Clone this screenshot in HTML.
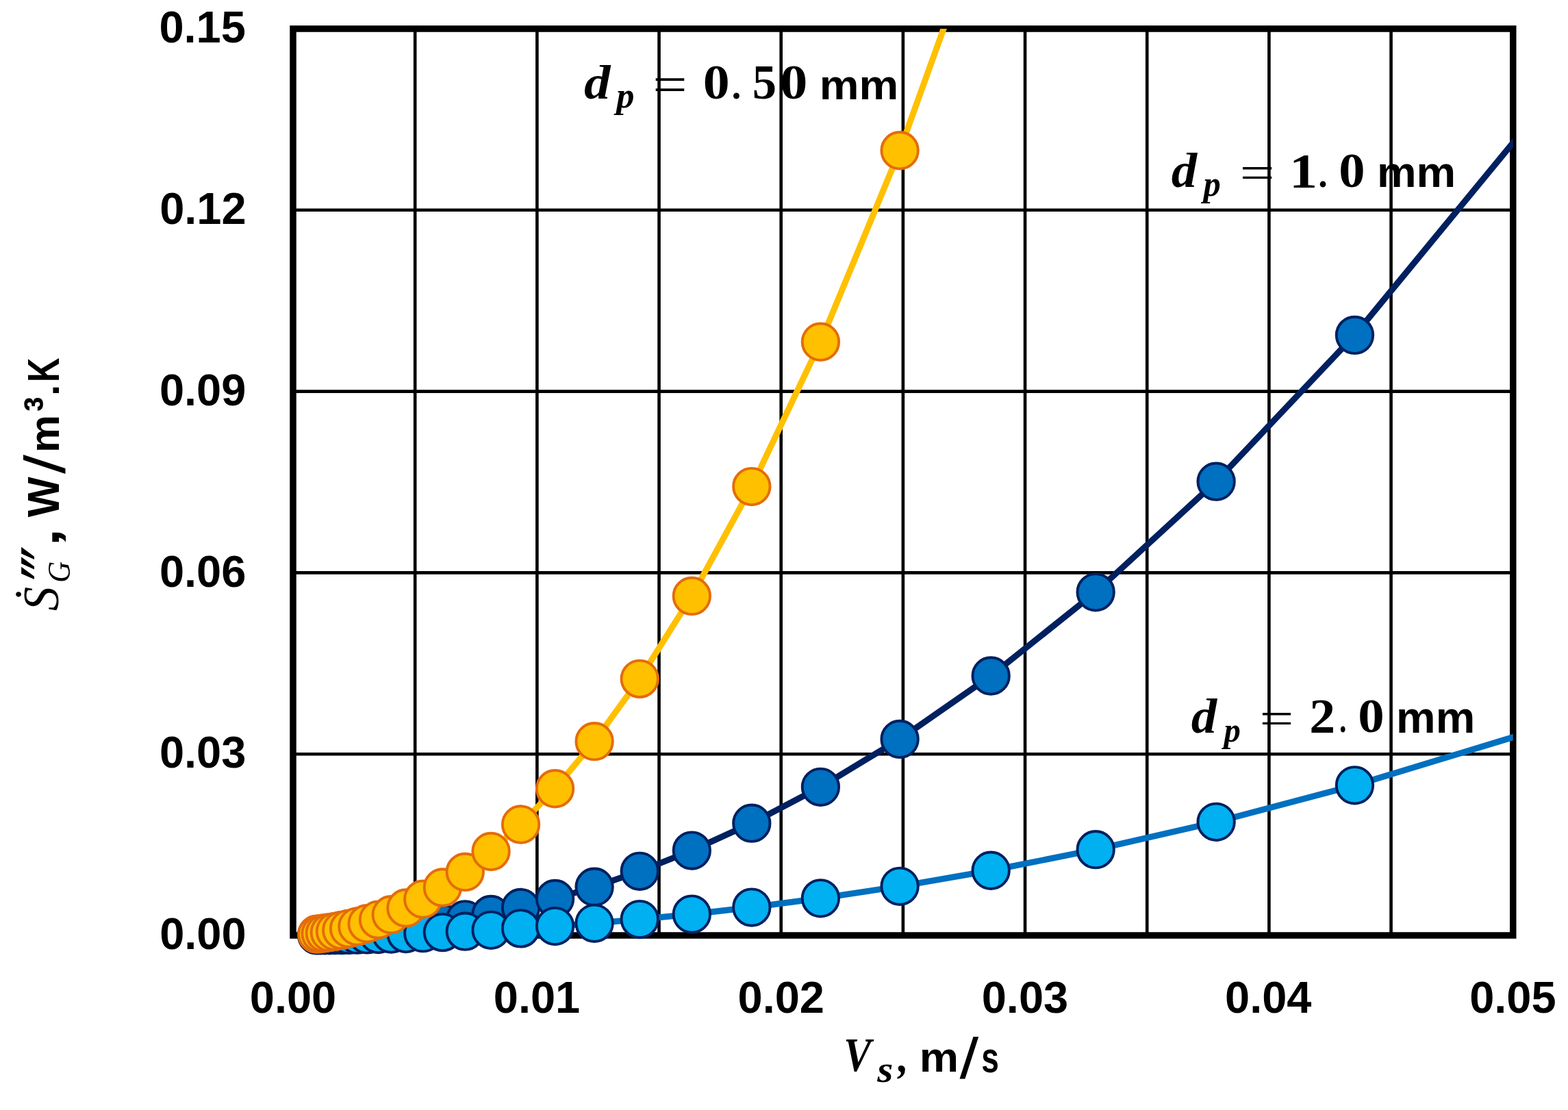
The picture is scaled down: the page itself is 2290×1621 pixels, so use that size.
<!DOCTYPE html>
<html><head><meta charset="utf-8"><title>Entropy generation vs superficial velocity</title>
<style>html,body{margin:0;padding:0;background:#fff;}svg{display:block;}</style></head>
<body>
<svg width="2290" height="1621" viewBox="0 0 2290 1621">
<rect x="0" y="0" width="2290" height="1621" fill="#fff"/>
<defs><clipPath id="pa"><rect x="428.00" y="42.00" width="1781.75" height="1324.00"/></clipPath></defs>

<g stroke="#000" stroke-width="4.6" fill="none">
<line x1="606.17" y1="42.0" x2="606.17" y2="1366.0"/>
<line x1="784.35" y1="42.0" x2="784.35" y2="1366.0"/>
<line x1="962.52" y1="42.0" x2="962.52" y2="1366.0"/>
<line x1="1140.70" y1="42.0" x2="1140.70" y2="1366.0"/>
<line x1="1318.88" y1="42.0" x2="1318.88" y2="1366.0"/>
<line x1="1497.05" y1="42.0" x2="1497.05" y2="1366.0"/>
<line x1="1675.22" y1="42.0" x2="1675.22" y2="1366.0"/>
<line x1="1853.40" y1="42.0" x2="1853.40" y2="1366.0"/>
<line x1="2031.58" y1="42.0" x2="2031.58" y2="1366.0"/>
<line x1="428.0" y1="306.80" x2="2209.75" y2="306.80"/>
<line x1="428.0" y1="571.60" x2="2209.75" y2="571.60"/>
<line x1="428.0" y1="836.40" x2="2209.75" y2="836.40"/>
<line x1="428.0" y1="1101.20" x2="2209.75" y2="1101.20"/>
</g>
<rect x="428.0" y="42.0" width="1781.75" height="1324.00" fill="none" stroke="#000" stroke-width="9.5"/>
<path d="M462.74,1365.54 L468.08,1365.39 L474.23,1365.19 L481.30,1364.93 L489.43,1364.59 L498.77,1364.13 L509.53,1363.53 L521.89,1362.73 L536.11,1361.67 L552.46,1360.28 L571.26,1358.43 L592.89,1355.99 L617.76,1352.76 L646.35,1348.49 L679.24,1342.84 L717.06,1335.38 L760.56,1325.50 L810.58,1312.44 L868.10,1295.16 L934.25,1272.32 L1010.32,1242.11 L1097.80,1202.15 L1198.41,1149.31 L1314.11,1079.43 L1447.16,987.01 L1600.17,864.79 L1776.13,703.15 L1978.48,489.38 L2211.19,206.67" fill="none" stroke="#002060" stroke-width="9.0" stroke-linejoin="round" stroke-linecap="round" clip-path="url(#pa)"/>
<g fill="#0070C0" stroke="#002060" stroke-width="3.9">
<circle cx="462.74" cy="1365.54" r="26.7"/>
<circle cx="468.08" cy="1365.39" r="26.7"/>
<circle cx="474.23" cy="1365.19" r="26.7"/>
<circle cx="481.30" cy="1364.93" r="26.7"/>
<circle cx="489.43" cy="1364.59" r="26.7"/>
<circle cx="498.77" cy="1364.13" r="26.7"/>
<circle cx="509.53" cy="1363.53" r="26.7"/>
<circle cx="521.89" cy="1362.73" r="26.7"/>
<circle cx="536.11" cy="1361.67" r="26.7"/>
<circle cx="552.46" cy="1360.28" r="26.7"/>
<circle cx="571.26" cy="1358.43" r="26.7"/>
<circle cx="592.89" cy="1355.99" r="26.7"/>
<circle cx="617.76" cy="1352.76" r="26.7"/>
<circle cx="646.35" cy="1348.49" r="26.7"/>
<circle cx="679.24" cy="1342.84" r="26.7"/>
<circle cx="717.06" cy="1335.38" r="26.7"/>
<circle cx="760.56" cy="1325.50" r="26.7"/>
<circle cx="810.58" cy="1312.44" r="26.7"/>
<circle cx="868.10" cy="1295.16" r="26.7"/>
<circle cx="934.25" cy="1272.32" r="26.7"/>
<circle cx="1010.32" cy="1242.11" r="26.7"/>
<circle cx="1097.80" cy="1202.15" r="26.7"/>
<circle cx="1198.41" cy="1149.31" r="26.7"/>
<circle cx="1314.11" cy="1079.43" r="26.7"/>
<circle cx="1447.16" cy="987.01" r="26.7"/>
<circle cx="1600.17" cy="864.79" r="26.7"/>
<circle cx="1776.13" cy="703.15" r="26.7"/>
<circle cx="1978.48" cy="489.38" r="26.7"/>
</g>
<path d="M462.74,1365.88 L468.08,1365.85 L474.23,1365.80 L481.30,1365.73 L489.43,1365.65 L498.77,1365.53 L509.53,1365.38 L521.89,1365.18 L536.11,1364.92 L552.46,1364.57 L571.26,1364.11 L592.89,1363.50 L617.76,1362.69 L646.35,1361.62 L679.24,1360.21 L717.06,1358.34 L760.56,1355.87 L810.58,1352.61 L868.10,1348.29 L934.25,1342.58 L1010.32,1335.03 L1097.80,1325.04 L1198.41,1311.83 L1314.11,1294.36 L1447.16,1271.25 L1600.17,1240.70 L1776.13,1200.29 L1978.48,1146.84 L2211.19,1076.17" fill="none" stroke="#0070C0" stroke-width="9.0" stroke-linejoin="round" stroke-linecap="round" clip-path="url(#pa)"/>
<g fill="#00B0F0" stroke="#002060" stroke-width="3.9">
<circle cx="462.74" cy="1365.88" r="26.7"/>
<circle cx="468.08" cy="1365.85" r="26.7"/>
<circle cx="474.23" cy="1365.80" r="26.7"/>
<circle cx="481.30" cy="1365.73" r="26.7"/>
<circle cx="489.43" cy="1365.65" r="26.7"/>
<circle cx="498.77" cy="1365.53" r="26.7"/>
<circle cx="509.53" cy="1365.38" r="26.7"/>
<circle cx="521.89" cy="1365.18" r="26.7"/>
<circle cx="536.11" cy="1364.92" r="26.7"/>
<circle cx="552.46" cy="1364.57" r="26.7"/>
<circle cx="571.26" cy="1364.11" r="26.7"/>
<circle cx="592.89" cy="1363.50" r="26.7"/>
<circle cx="617.76" cy="1362.69" r="26.7"/>
<circle cx="646.35" cy="1361.62" r="26.7"/>
<circle cx="679.24" cy="1360.21" r="26.7"/>
<circle cx="717.06" cy="1358.34" r="26.7"/>
<circle cx="760.56" cy="1355.87" r="26.7"/>
<circle cx="810.58" cy="1352.61" r="26.7"/>
<circle cx="868.10" cy="1348.29" r="26.7"/>
<circle cx="934.25" cy="1342.58" r="26.7"/>
<circle cx="1010.32" cy="1335.03" r="26.7"/>
<circle cx="1097.80" cy="1325.04" r="26.7"/>
<circle cx="1198.41" cy="1311.83" r="26.7"/>
<circle cx="1314.11" cy="1294.36" r="26.7"/>
<circle cx="1447.16" cy="1271.25" r="26.7"/>
<circle cx="1600.17" cy="1240.70" r="26.7"/>
<circle cx="1776.13" cy="1200.29" r="26.7"/>
<circle cx="1978.48" cy="1146.84" r="26.7"/>
</g>
<path d="M462.74,1364.15 L468.08,1363.55 L474.23,1362.76 L481.30,1361.72 L489.43,1360.34 L498.77,1358.52 L509.53,1356.10 L521.89,1352.91 L536.11,1348.69 L552.46,1343.10 L571.26,1335.72 L592.89,1325.96 L617.76,1313.04 L646.35,1295.96 L679.24,1273.38 L717.06,1243.50 L760.56,1204.00 L810.58,1151.75 L868.10,1082.66 L934.25,991.28 L1010.32,870.43 L1097.80,710.61 L1198.41,499.25 L1314.11,219.73 L1447.16,-149.95 L1600.17,-638.84 L1776.13,-1285.40 L1978.48,-2140.48 L2211.19,-3271.32" fill="none" stroke="#FFC000" stroke-width="9.0" stroke-linejoin="round" stroke-linecap="round" clip-path="url(#pa)"/>
<g fill="#FFC000" stroke="#E46C0A" stroke-width="3.9">
<circle cx="462.74" cy="1364.15" r="26.7"/>
<circle cx="468.08" cy="1363.55" r="26.7"/>
<circle cx="474.23" cy="1362.76" r="26.7"/>
<circle cx="481.30" cy="1361.72" r="26.7"/>
<circle cx="489.43" cy="1360.34" r="26.7"/>
<circle cx="498.77" cy="1358.52" r="26.7"/>
<circle cx="509.53" cy="1356.10" r="26.7"/>
<circle cx="521.89" cy="1352.91" r="26.7"/>
<circle cx="536.11" cy="1348.69" r="26.7"/>
<circle cx="552.46" cy="1343.10" r="26.7"/>
<circle cx="571.26" cy="1335.72" r="26.7"/>
<circle cx="592.89" cy="1325.96" r="26.7"/>
<circle cx="617.76" cy="1313.04" r="26.7"/>
<circle cx="646.35" cy="1295.96" r="26.7"/>
<circle cx="679.24" cy="1273.38" r="26.7"/>
<circle cx="717.06" cy="1243.50" r="26.7"/>
<circle cx="760.56" cy="1204.00" r="26.7"/>
<circle cx="810.58" cy="1151.75" r="26.7"/>
<circle cx="868.10" cy="1082.66" r="26.7"/>
<circle cx="934.25" cy="991.28" r="26.7"/>
<circle cx="1010.32" cy="870.43" r="26.7"/>
<circle cx="1097.80" cy="710.61" r="26.7"/>
<circle cx="1198.41" cy="499.25" r="26.7"/>
<circle cx="1314.11" cy="219.73" r="26.7"/>
</g>
<text transform="translate(232.41,62.20) scale(1.015,1)" font-family='"Liberation Sans", Arial, sans-serif' font-weight="bold" font-size="64">0.15</text>
<text transform="translate(233.17,327.00) scale(1.015,1)" font-family='"Liberation Sans", Arial, sans-serif' font-weight="bold" font-size="64">0.12</text>
<text transform="translate(232.92,591.80) scale(1.015,1)" font-family='"Liberation Sans", Arial, sans-serif' font-weight="bold" font-size="64">0.09</text>
<text transform="translate(232.92,856.60) scale(1.015,1)" font-family='"Liberation Sans", Arial, sans-serif' font-weight="bold" font-size="64">0.06</text>
<text transform="translate(232.92,1121.40) scale(1.015,1)" font-family='"Liberation Sans", Arial, sans-serif' font-weight="bold" font-size="64">0.03</text>
<text transform="translate(233.17,1386.20) scale(1.015,1)" font-family='"Liberation Sans", Arial, sans-serif' font-weight="bold" font-size="64">0.00</text>
<text transform="translate(364.82,1479.3) scale(1.015,1)" font-family='"Liberation Sans", Arial, sans-serif' font-weight="bold" font-size="64">0.00</text>
<text transform="translate(720.79,1479.3) scale(1.015,1)" font-family='"Liberation Sans", Arial, sans-serif' font-weight="bold" font-size="64">0.01</text>
<text transform="translate(1077.52,1479.3) scale(1.015,1)" font-family='"Liberation Sans", Arial, sans-serif' font-weight="bold" font-size="64">0.02</text>
<text transform="translate(1433.74,1479.3) scale(1.015,1)" font-family='"Liberation Sans", Arial, sans-serif' font-weight="bold" font-size="64">0.03</text>
<text transform="translate(1789.07,1479.3) scale(1.015,1)" font-family='"Liberation Sans", Arial, sans-serif' font-weight="bold" font-size="64">0.04</text>
<text transform="translate(2146.19,1479.3) scale(1.015,1)" font-family='"Liberation Sans", Arial, sans-serif' font-weight="bold" font-size="64">0.05</text>
<text transform="translate(1232.24,1564.20) scale(0.8638,1.0000)" font-family='"Liberation Serif", "Times New Roman", serif' font-weight="bold" font-style="italic" font-size="69.5">V</text>
<text transform="translate(1281.27,1580.40) scale(1.0886,0.9981)" font-family='"Liberation Serif", "Times New Roman", serif' font-weight="bold" font-style="italic" font-size="54.5">s</text>
<text transform="translate(1311.79,1565.55) scale(0.9280,1.0051)" font-family='"Liberation Serif", "Times New Roman", serif' font-weight="bold" font-style="italic" font-size="65.0">,</text>
<text transform="translate(1342.74,1565.00) scale(1.0652,1.0031)" font-family='"Liberation Sans", Arial, sans-serif' font-weight="bold" font-style="normal" font-size="60.5">m</text>
<text transform="translate(1401.40,1574.85) scale(1.1871,1.0016)" font-family='"Liberation Sans", Arial, sans-serif' font-weight="normal" font-style="normal" font-size="84.0">/</text>
<text transform="translate(1433.24,1566.00) scale(0.7367,0.9956)" font-family='"Liberation Sans", Arial, sans-serif' font-weight="bold" font-style="normal" font-size="62.5">s</text>
<text transform="translate(853.08,143.75) scale(1.0971,1.0010)" font-family='"Liberation Serif", "Times New Roman", serif' font-weight="bold" font-style="italic" font-size="70.0">d</text>
<text transform="translate(900.22,157.27) scale(0.9913,0.9986)" font-family='"Liberation Serif", "Times New Roman", serif' font-weight="bold" font-style="italic" font-size="53.0">p</text>
<text transform="translate(953.13,147.96) scale(1.1914,0.9973)" font-family='"Liberation Serif", "Times New Roman", serif' font-weight="normal" font-style="normal" font-size="75.0">=</text>
<text transform="translate(1026.71,143.75) scale(1.0876,0.9990)" font-family='"Liberation Serif", "Times New Roman", serif' font-weight="bold" font-style="normal" font-size="71.5">0</text>
<text transform="translate(1068.50,143.75) scale(1.0000,1.0000)" font-family='"Liberation Serif", "Times New Roman", serif' font-weight="bold" font-style="normal" font-size="55.5">.</text>
<text transform="translate(1098.78,143.75) scale(0.9738,0.9990)" font-family='"Liberation Serif", "Times New Roman", serif' font-weight="bold" font-style="normal" font-size="72.5">5</text>
<text transform="translate(1138.89,143.75) scale(1.1306,0.9990)" font-family='"Liberation Serif", "Times New Roman", serif' font-weight="bold" font-style="normal" font-size="71.5">0</text>
<text transform="translate(1196.74,144.50) scale(1.0650,1.0046)" font-family='"Liberation Sans", Arial, sans-serif' font-weight="bold" font-style="normal" font-size="61.0">mm</text>
<text transform="translate(1710.81,273.05) scale(1.0535,1.0000)" font-family='"Liberation Serif", "Times New Roman", serif' font-weight="bold" font-style="italic" font-size="71.0">d</text>
<text transform="translate(1757.55,286.43) scale(0.9735,0.9972)" font-family='"Liberation Serif", "Times New Roman", serif' font-weight="bold" font-style="italic" font-size="52.0">p</text>
<text transform="translate(1810.38,275.08) scale(1.3613,1.0061)" font-family='"Liberation Serif", "Times New Roman", serif' font-weight="normal" font-style="normal" font-size="66.5">=</text>
<text transform="translate(1883.03,273.80) scale(1.1259,0.9969)" font-family='"Liberation Serif", "Times New Roman", serif' font-weight="bold" font-style="normal" font-size="73.0">1</text>
<text transform="translate(1925.36,273.05) scale(0.9778,1.0000)" font-family='"Liberation Serif", "Times New Roman", serif' font-weight="bold" font-style="normal" font-size="55.5">.</text>
<text transform="translate(1955.25,273.05) scale(1.0711,0.9969)" font-family='"Liberation Serif", "Times New Roman", serif' font-weight="bold" font-style="normal" font-size="71.5">0</text>
<text transform="translate(2010.90,272.90) scale(1.0128,0.9971)" font-family='"Liberation Sans", Arial, sans-serif' font-weight="bold" font-style="normal" font-size="64.0">mm</text>
<text transform="translate(1739.81,1069.95) scale(1.0535,1.0000)" font-family='"Liberation Serif", "Times New Roman", serif' font-weight="bold" font-style="italic" font-size="71.0">d</text>
<text transform="translate(1787.45,1083.28) scale(0.9464,1.0014)" font-family='"Liberation Serif", "Times New Roman", serif' font-weight="bold" font-style="italic" font-size="51.5">p</text>
<text transform="translate(1839.52,1071.71) scale(1.3184,0.9970)" font-family='"Liberation Serif", "Times New Roman", serif' font-weight="normal" font-style="normal" font-size="67.0">=</text>
<text transform="translate(1912.30,1069.70) scale(1.0678,1.0021)" font-family='"Liberation Serif", "Times New Roman", serif' font-weight="bold" font-style="normal" font-size="71.0">2</text>
<text transform="translate(1955.91,1068.95) scale(0.7556,1.0000)" font-family='"Liberation Serif", "Times New Roman", serif' font-weight="bold" font-style="normal" font-size="55.5">.</text>
<text transform="translate(1983.28,1068.95) scale(1.0983,0.9968)" font-family='"Liberation Serif", "Times New Roman", serif' font-weight="bold" font-style="normal" font-size="70.0">0</text>
<text transform="translate(2039.10,1069.70) scale(0.9885,1.0014)" font-family='"Liberation Sans", Arial, sans-serif' font-weight="bold" font-style="normal" font-size="65.5">mm</text>
<g transform="translate(86.7,892) rotate(-90)">
<text transform="translate(0.05,-1.75) scale(0.9496,0.9992)" font-family='"Liberation Serif", "Times New Roman", serif' font-weight="normal" font-style="italic" font-size="74.0">Ṡ</text>
<text transform="translate(44.07,20.50) scale(0.9653,1.0027)" font-family='"DejaVu Sans", sans-serif' font-weight="normal" font-style="normal" font-size="103.0">‴</text>
<text transform="translate(41.22,15.40) scale(0.9115,1.0032)" font-family='"Liberation Serif", "Times New Roman", serif' font-weight="normal" font-style="italic" font-size="47.0">G</text>
<text transform="translate(93.93,-0.95) scale(1.4595,1.0000)" font-family='"Liberation Sans", Arial, sans-serif' font-weight="bold" font-style="normal" font-size="65.5">,</text>
<text transform="translate(136.70,-1.00) scale(0.9600,0.9989)" font-family='"Liberation Sans", Arial, sans-serif' font-weight="bold" font-style="normal" font-size="65.0">W</text>
<text transform="translate(200.00,8.55) scale(1.2043,1.0008)" font-family='"Liberation Sans", Arial, sans-serif' font-weight="normal" font-style="normal" font-size="83.5">/</text>
<text transform="translate(230.93,-1.00) scale(1.0172,1.0046)" font-family='"Liberation Sans", Arial, sans-serif' font-weight="bold" font-style="normal" font-size="61.0">m</text>
<text transform="translate(290.49,1.15) scale(0.8636,0.9982)" font-family='"Liberation Sans", Arial, sans-serif' font-weight="bold" font-style="normal" font-size="76.5">³</text>
<text transform="translate(313.98,-1.00) scale(1.0061,0.9943)" font-family='"Liberation Sans", Arial, sans-serif' font-weight="bold" font-style="normal" font-size="58.0">.</text>
<text transform="translate(334.09,-1.00) scale(0.7548,0.9989)" font-family='"Liberation Sans", Arial, sans-serif' font-weight="bold" font-style="normal" font-size="65.0">K</text>
</g>
</svg>
</body></html>
